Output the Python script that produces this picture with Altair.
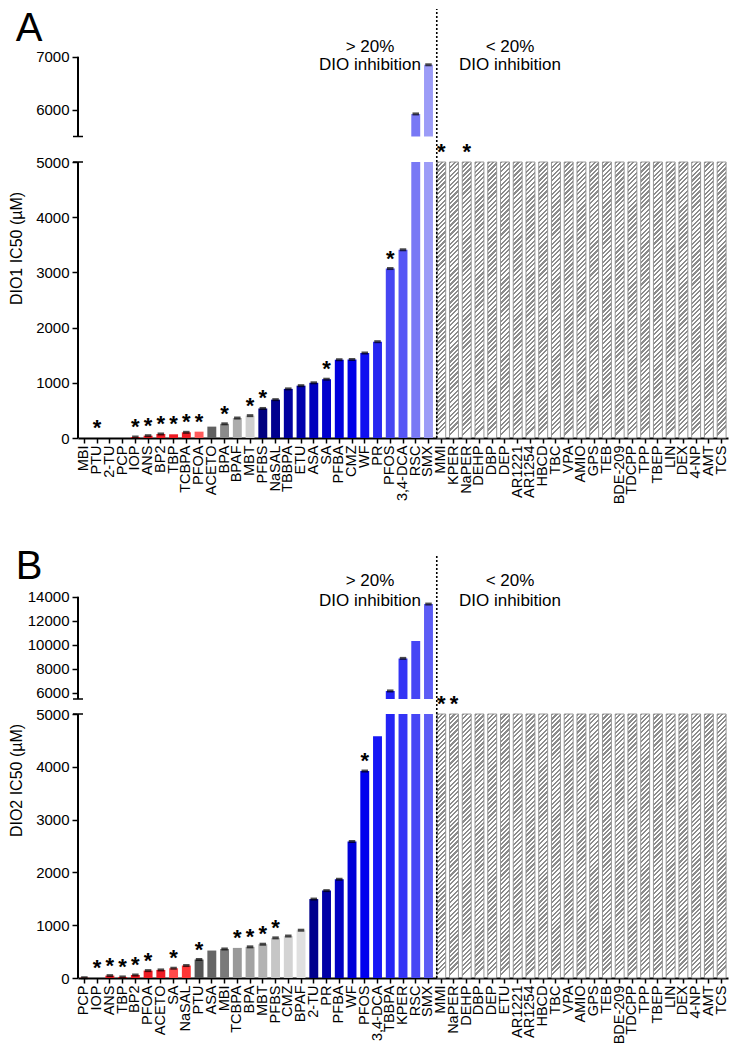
import altair as alt
import pandas as pd

FONT = "Liberation Sans"
HATCH_VALUE = 5000
BREAK_LOW = 5000
BREAK_HIGH = 5500

# ---------------- Panel A (DIO1) ----------------
a_cats = ["MBI", "PTU", "2-TU", "PCP", "IOP", "ANS", "BP2", "TBP", "TCBPA", "PFOA",
          "ACETO", "BPA", "BPAF", "MBT", "PFBS", "NaSAL", "TBBPA", "ETU", "ASA", "SA",
          "PFBA", "CMZ", "WF", "PR", "PFOS", "3,4-DCA", "RSC", "SMX"]
a_vals = [0, 0, 0, 0, 18, 42, 73, 67, 103, 115,
          206, 257, 362, 405, 535, 695, 890, 948, 1000, 1065,
          1418, 1422, 1540, 1745, 3070, 3410, 5925, 6850]
a_colors = ["#ee1c24", "#ee1c24", "#ee1c24", "#ee1c24", "#ee1c24", "#ee1c24", "#ee1c24",
            "#ee1c24", "#ee1c24", "#ff5a5a",
            "#616161", "#8a8a8a", "#acacac", "#cfcfcf",
            "#000080", "#00008f", "#00009e", "#0000ad", "#0000bd", "#0000cc",
            "#0000dd", "#0000e8", "#1010f0", "#2626f0", "#4646f2", "#5656f5", "#7878f5", "#9c9cf7"]
a_caps = [False, False, False, False, True, True, True, False, True, False,
          False, True, True, True, True, True, True, True, True, True,
          True, True, True, True, True, True, True, True]
a_stars = ["PTU", "IOP", "ANS", "BP2", "TBP", "TCBPA", "PFOA", "BPA", "MBT", "PFBS",
           "SA", "PFOS", "MMI", "NaPER"]
a_hatched = ["MMI", "KPER", "NaPER", "DEHP", "DBP", "DEP", "AR1221", "AR1254", "HBCD",
             "TBC", "VPA", "AMIO", "GPS", "TEB", "BDE-209", "TDCPP", "TPP", "TBEP",
             "LIN", "DEX", "4-NP", "AMT", "TCS"]
a_ticks = [0, 1000, 2000, 3000, 4000, 5000, 6000, 7000]

# ---------------- Panel B (DIO2) ----------------
b_cats = ["PCP", "IOP", "ANS", "TBP", "BP2", "PFOA", "ACETO", "SA", "NaSAL", "PTU",
          "ASA", "MBI", "TCBPA", "BPA", "MBT", "PFBS", "CMZ", "BPAF", "2-TU", "PR",
          "PFBA", "WF", "PFOS", "3,4-DCA", "TBBPA", "KPER", "RSC", "SMX"]
b_vals = [5, 0, 45, 20, 57, 140, 153, 185, 236, 350,
          520, 550, 570, 590, 640, 760, 795, 905, 1495, 1655,
          1870, 2585, 3920, 4580, 6170, 8880, 10330, 13400]
b_colors = ["#ee1c24", "#ee1c24", "#ee1c24", "#ee1c24", "#ee1c24", "#ee1c24", "#ee1c24",
            "#ff4a4a", "#ff3636",
            "#555555", "#666666", "#7a7a7a", "#999999", "#a3a3a3", "#b3b3b3", "#c6c6c6",
            "#d3d3d3", "#e0e0e0",
            "#00008c", "#0000a6", "#0000c2", "#0000d8", "#0000ee", "#1616f5", "#2424f5",
            "#3434f5", "#4646f5", "#5c5cf5"]
b_caps = [True, False, True, True, True, True, True, True, True, True,
          False, True, False, True, True, True, True, True, True, True,
          True, True, True, False, True, True, False, True]
b_stars = ["IOP", "ANS", "TBP", "BP2", "PFOA", "SA", "PTU", "TCBPA", "BPA", "MBT",
           "PFBS", "PFOS", "MMI", "NaPER"]
b_hatched = ["MMI", "NaPER", "DEHP", "DBP", "DEP", "ETU", "AR1221", "AR1254", "HBCD",
             "TBC", "VPA", "AMIO", "GPS", "TEB", "BDE-209", "TDCPP", "TPP", "TBEP",
             "LIN", "DEX", "4-NP", "AMT", "TCS"]
b_ticks = [0, 1000, 2000, 3000, 4000, 5000, 6000, 8000, 10000, 12000, 14000]

W = 650
P_IN = 0.3
P_OUT = 0.15


def hatch_fill(h, w, period=4.5, frac=0.5, line="#8c8c8c"):
    n = max(1, int(round(h / period)))
    stops = []
    for k in range(n):
        t0 = k / n
        t1 = (k + frac) / n
        t2 = (k + 1) / n
        stops += [alt.GradientStop(color=line, offset=t0),
                  alt.GradientStop(color=line, offset=t1),
                  alt.GradientStop(color="white", offset=t1),
                  alt.GradientStop(color="white", offset=t2)]
    return alt.LinearGradient(gradient="linear", stops=stops, x1=0, y1=0, x2=w / h, y2=1)


def panel(letter, ytitle, cats, vals, colors, caps, stars, hatched, ticks,
          top_value, yrange, title_y, ann_vals, letter_y):
    H = yrange[0]
    all_cats = cats + hatched
    lookup = dict(zip(cats, vals))
    lookup.update({c: HATCH_VALUE for c in hatched})
    bars = pd.DataFrame({"cat": cats, "val": vals, "color": colors, "cap": caps})
    hbars = pd.DataFrame({"cat": hatched, "val": [HATCH_VALUE] * len(hatched)})
    sdf = pd.DataFrame({"cat": stars, "val": [lookup[c] for c in stars]})
    one = pd.DataFrame({"k": [0]})

    xs = alt.Scale(domain=all_cats, paddingInner=P_IN, paddingOuter=P_OUT)
    ys = alt.Scale(domain=[0, BREAK_LOW, BREAK_HIGH, top_value], range=yrange, nice=False)

    xaxis = alt.Axis(labelAngle=-90, labelFont=FONT, labelFontSize=14.5, labelColor="black",
                     labelPadding=2, labelOverlap=False, labelLimit=200, tickColor="black",
                     tickSize=5, tickWidth=1.5, domainColor="black", domainWidth=2, grid=False)
    yaxis = alt.Axis(values=ticks, format="d", domain=False, grid=False, tickColor="black",
                     tickSize=6, tickWidth=1.5, labelFont=FONT, labelFontSize=15,
                     labelColor="black", labelPadding=3, titleFont=FONT, titleFontSize=16,
                     titleFontWeight="normal", titleColor="black", titleX=-54, titleY=title_y)
    X = alt.X("cat:N", scale=xs, axis=xaxis, title=None)
    Y = alt.Y("val:Q", scale=ys, axis=yaxis, title=ytitle)

    step = W / (len(all_cats) - P_IN + 2 * P_OUT)
    bw = step * (1 - P_IN)
    hh = yrange[0] - yrange[1]

    layers = [
        alt.Chart(bars).mark_bar().encode(x=X, y=Y, color=alt.Color("color:N", scale=None)),
        alt.Chart(one).mark_rect(color="white").encode(
            x=alt.value(-1), x2=alt.value(W + 1),
            y=alt.Y(datum=BREAK_LOW, scale=ys), y2=alt.datum(BREAK_HIGH)),
        alt.Chart(hbars).mark_bar(fill=hatch_fill(hh, bw), stroke="#8c8c8c",
                                  strokeWidth=0.9).encode(x=X, y=Y),
        alt.Chart(bars[bars["cap"]]).mark_tick(color="black", thickness=3, size=6.5).encode(x=X, y=Y),
        alt.Chart(sdf).mark_text(text="*", font=FONT, fontSize=22, fontWeight="bold",
                                 baseline="alphabetic", dy=-3, color="black").encode(x=X, y=Y),
        alt.Chart(pd.DataFrame({"cat": [hatched[0]]})).mark_rule(
            color="black", strokeWidth=1.6, strokeDash=[2, 2]).encode(
            x=alt.X("cat:N", scale=xs, axis=xaxis, title=None, bandPosition=0),
            y=alt.datum(0), y2=alt.datum(top_value)),
        alt.Chart(one).mark_rule(color="black", strokeWidth=2).encode(
            x=alt.value(0), y=alt.datum(0), y2=alt.datum(BREAK_LOW)),
        alt.Chart(one).mark_rule(color="black", strokeWidth=2).encode(
            x=alt.value(0), y=alt.datum(BREAK_HIGH), y2=alt.datum(ticks[-1])),
        alt.Chart(one).mark_rule(color="black", strokeWidth=1.5).encode(
            x=alt.value(-5), x2=alt.value(5), y=alt.datum(BREAK_HIGH)),
        alt.Chart(one).mark_rule(color="black", strokeWidth=1.5).encode(
            x=alt.value(-5), x2=alt.value(5), y=alt.datum(BREAK_LOW)),
    ]
    ann = [("> 20%", ann_vals[0], 292), ("DIO inhibition", ann_vals[1], 292),
           ("< 20%", ann_vals[0], 432), ("DIO inhibition", ann_vals[1], 432)]
    for s, v, xp in ann:
        layers.append(alt.Chart(one).mark_text(text=s, font=FONT, fontSize=17, color="black",
                                               align="center", baseline="middle").encode(
            x=alt.value(xp), y=alt.datum(v)))
    layers.append(alt.Chart(one).mark_text(text=letter, font=FONT, fontSize=40, color="black",
                                           align="center", baseline="top").encode(
        x=alt.value(-49), y=alt.value(letter_y)))
    return alt.layer(*layers).properties(width=W, height=H)


chart_a = panel("A", "DIO1 IC50 (µM)", a_cats, a_vals, a_colors, a_caps, a_stars, a_hatched,
                a_ticks, 7900, [429, 153, 127.5, 0], 239, [7190, 6850], 0)
chart_b = panel("B", "DIO2 IC50 (µM)", b_cats, b_vals, b_colors, b_caps, b_stars, b_hatched,
                b_ticks, 17400, [422, 158, 143, 0], 224, [15333, 13667], -9)

chart = alt.vconcat(chart_a, chart_b, spacing=43, padding=0).configure_view(stroke=None)
chart.save("out.html", embed_options={"renderer": "svg", "actions": False})
